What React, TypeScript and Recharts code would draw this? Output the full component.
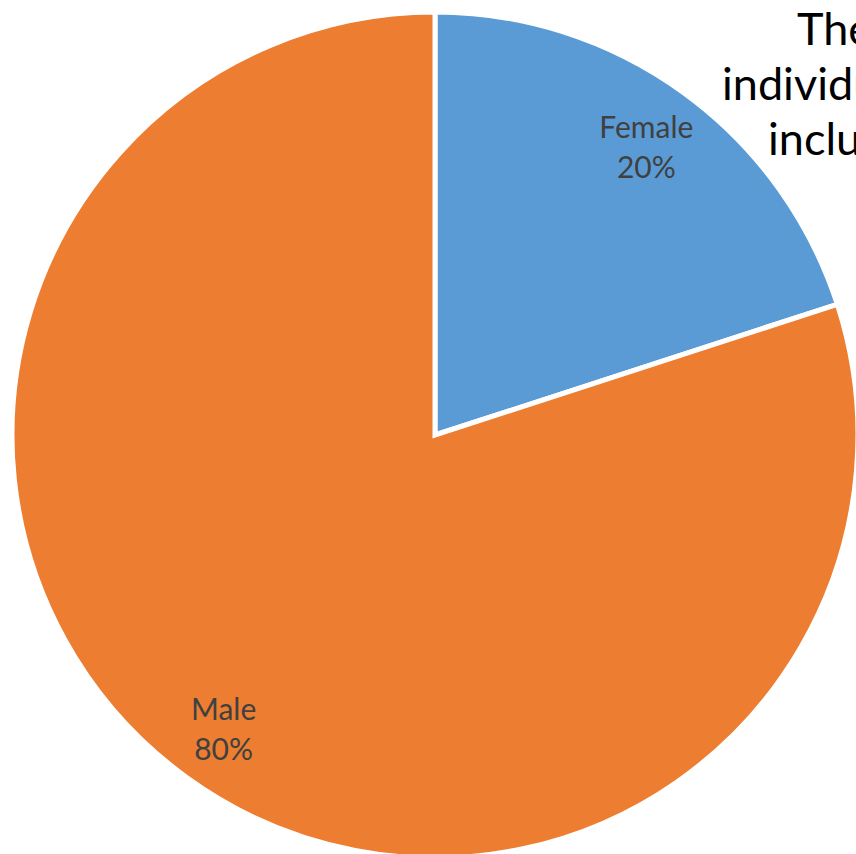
import { PieChart, Pie, Cell } from 'recharts'

const genders = ['Female', 'Male']
const shares = [20, 80]
const sliceColors = ['#5B9BD5', '#ED7D31']
const titleLines = ['The', 'individuals', 'included']

const data = genders.map((name, i) => ({ name, value: shares[i] }))

const RAD = Math.PI / 180

function renderLabel(props: any) {
  const { cx, cy, midAngle, outerRadius, name, percent } = props
  const r = outerRadius * 0.85
  const x = cx + r * Math.cos(-midAngle * RAD)
  const y = cy + r * Math.sin(-midAngle * RAD)
  return (
    <text x={x} y={y} textAnchor="middle" fill="#404040" fontSize={30} fontFamily="Lato, sans-serif">
      <tspan x={x} dy={-6}>{name}</tspan>
      <tspan x={x} dy={40}>{`${Math.round(percent * 100)}%`}</tspan>
    </text>
  )
}

export default function App() {
  return (
    <div
      style={{
        position: 'absolute',
        left: 0,
        top: 0,
        width: 856,
        height: 854,
        overflow: 'hidden',
        background: '#fff',
      }}
    >
      <PieChart width={856} height={854} margin={{ top: 0, right: 0, bottom: 0, left: 0 }}>
        <Pie
          data={data}
          dataKey="value"
          nameKey="name"
          cx={435}
          cy={435}
          outerRadius={423}
          startAngle={90}
          endAngle={-270}
          stroke="#fff"
          strokeWidth={5}
          label={renderLabel}
          labelLine={false}
          isAnimationActive={false}
        >
          {data.map((d, i) => (
            <Cell key={d.name} fill={sliceColors[i]} />
          ))}
        </Pie>
      </PieChart>
      <svg width={856} height={854} style={{ position: 'absolute', left: 0, top: 0, pointerEvents: 'none' }}>
        <text fontFamily="Lato, sans-serif" fontSize={45} fill="#000">
          <tspan x={797} y={45}>{titleLines[0]}</tspan>
          <tspan x={722} y={100}>{titleLines[1]}</tspan>
          <tspan x={768} y={155}>{titleLines[2]}</tspan>
        </text>
      </svg>
    </div>
  )
}
